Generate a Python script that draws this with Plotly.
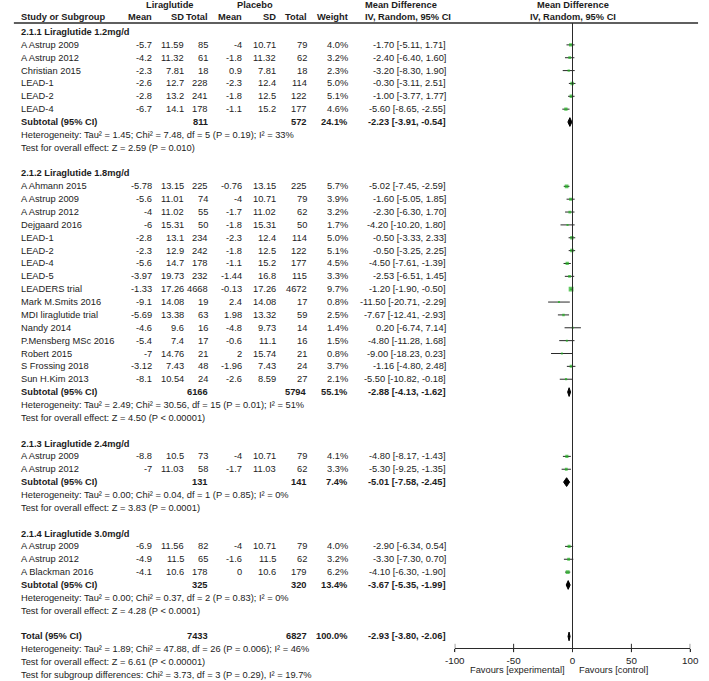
import plotly.graph_objects as go

# ---------------- data ----------------
group_titles = ["2.1.1 Liraglutide 1.2mg/d", "2.1.2 Liraglutide 1.8mg/d",
                "2.1.3 Liraglutide 2.4mg/d", "2.1.4 Liraglutide 3.0mg/d"]
study_group = [0] * 6 + [1] * 16 + [2] * 2 + [3] * 3
studies = ["A Astrup 2009", "A Astrup 2012", "Christian 2015", "LEAD-1", "LEAD-2", "LEAD-4",
           "A Ahmann 2015", "A Astrup 2009", "A Astrup 2012", "Dejgaard 2016", "LEAD-1", "LEAD-2",
           "LEAD-4", "LEAD-5", "LEADERS trial", "Mark M.Smits 2016", "MDI liraglutide trial",
           "Nandy 2014", "P.Mensberg MSc 2016", "Robert 2015", "S Frossing 2018", "Sun H.Kim 2013",
           "A Astrup 2009", "A Astrup 2012",
           "A Astrup 2009", "A Astrup 2012", "A Blackman 2016"]
lira_mean = [-5.7, -4.2, -2.3, -2.6, -2.8, -6.7,
             -5.78, -5.6, -4, -6, -2.8, -2.3, -5.6, -3.97, -1.33, -9.1, -5.69, -4.6, -5.4, -7, -3.12, -8.1,
             -8.8, -7,
             -6.9, -4.9, -4.1]
lira_sd = [11.59, 11.32, 7.81, 12.7, 13.2, 14.1,
           13.15, 11.01, 11.02, 15.31, 13.1, 12.9, 14.7, 19.73, 17.26, 14.08, 13.38, 9.6, 7.4, 14.76, 7.43, 10.54,
           10.5, 11.03,
           11.56, 11.5, 10.6]
lira_n = [85, 61, 18, 228, 241, 178,
          225, 74, 55, 50, 234, 242, 178, 232, 4668, 19, 63, 16, 17, 21, 48, 24,
          73, 58,
          82, 65, 178]
pla_mean = [-4, -1.8, 0.9, -2.3, -1.8, -1.1,
            -0.76, -4, -1.7, -1.8, -2.3, -1.8, -1.1, -1.44, -0.13, 2.4, 1.98, -4.8, -0.6, 2, -1.96, -2.6,
            -4, -1.7,
            -4, -1.6, 0]
pla_sd = [10.71, 11.32, 7.81, 12.4, 12.5, 15.2,
          13.15, 10.71, 11.02, 15.31, 12.4, 12.5, 15.2, 16.8, 17.26, 14.08, 13.32, 9.73, 11.1, 15.74, 7.43, 8.59,
          10.71, 11.03,
          10.71, 11.5, 10.6]
pla_n = [79, 62, 18, 114, 122, 177,
         225, 79, 62, 50, 114, 122, 177, 115, 4672, 17, 59, 14, 16, 21, 24, 27,
         79, 62,
         79, 62, 179]
weight = [4.0, 3.2, 2.3, 5.0, 5.1, 4.6,
          5.7, 3.9, 3.2, 1.7, 5.0, 5.1, 4.5, 3.3, 9.7, 0.8, 2.5, 1.4, 1.5, 0.8, 3.7, 2.1,
          4.1, 3.3,
          4.0, 3.2, 6.2]
md = [-1.70, -2.40, -3.20, -0.30, -1.00, -5.60,
      -5.02, -1.60, -2.30, -4.20, -0.50, -0.50, -4.50, -2.53, -1.20, -11.50, -7.67, 0.20, -4.80, -9.00, -1.16, -5.50,
      -4.80, -5.30,
      -2.90, -3.30, -4.10]
ci_lo = [-5.11, -6.40, -8.30, -3.11, -3.77, -8.65,
         -7.45, -5.05, -6.30, -10.20, -3.33, -3.25, -7.61, -6.51, -1.90, -20.71, -12.41, -6.74, -11.28, -18.23, -4.80, -10.82,
         -8.17, -9.25,
         -6.34, -7.30, -6.30]
ci_hi = [1.71, 1.60, 1.90, 2.51, 1.77, -2.55,
         -2.59, 1.85, 1.70, 1.80, 2.33, 2.25, -1.39, 1.45, -0.50, -2.29, -2.93, 7.14, 1.68, 0.23, 2.48, -0.18,
         -1.43, -1.35,
         0.54, 0.70, -1.90]

sub_lira_n = [811, 6166, 131, 325]
sub_pla_n = [572, 5794, 141, 320]
sub_weight = [24.1, 55.1, 7.4, 13.4]
sub_md = [-2.23, -2.88, -5.01, -3.67]
sub_lo = [-3.91, -4.13, -7.58, -5.35]
sub_hi = [-0.54, -1.62, -2.45, -1.99]
sub_het = ["Tau² = 1.45; Chi² = 7.48, df = 5 (P = 0.19); I² = 33%",
           "Tau² = 2.49; Chi² = 30.56, df = 15 (P = 0.01); I² = 51%",
           "Tau² = 0.00; Chi² = 0.04, df = 1 (P = 0.85); I² = 0%",
           "Tau² = 0.00; Chi² = 0.37, df = 2 (P = 0.83); I² = 0%"]
sub_z = ["Z = 2.59 (P = 0.010)", "Z = 4.50 (P < 0.00001)",
         "Z = 3.83 (P = 0.0001)", "Z = 4.28 (P < 0.0001)"]

total_lira_n = 7433
total_pla_n = 6827
total_weight = 100.0
total_md = -2.93
total_lo = -3.80
total_hi = -2.06
total_het = "Tau² = 1.89; Chi² = 47.88, df = 26 (P = 0.006); I² = 46%"
total_z = "Z = 6.61 (P < 0.00001)"
subgroup_test = "Chi² = 3.73, df = 3 (P = 0.29), I² = 19.7%"

axis_ticks = [-100, -50, 0, 50, 100]
axis_ticktext = ["-100", "-50", "0", "50", "100"]

# ---------------- styling / layout constants ----------------
W, H = 709, 681
ROW0_PX, ROW_PX = 32.0, 12.86
FONT = "Arial, Liberation Sans, sans-serif"
FS = 9.3
TXT = "#1c1c1c"
LINE = "#2a2a2a"
GREEN = "#1fb41f"
X_STUDY = 9
COL_R = [148, 181, 205, 240, 275, 307, 349]
X_MD = 450
X_MDH = 363
PLOT_L, PLOT_R = 457, 699
AXIS_PX = 648


def px_to_row(p):
    return (p - ROW0_PX) / ROW_PX


def fmt(v):
    return str(v)


ann = []


def txt(x, row, s, anchor="left", bold=False, size=FS):
    if bold:
        s = "<b>" + s + "</b>"
    ann.append(dict(x=x, y=row, xref="x", yref="y", text=s, showarrow=False,
                    xanchor=anchor, yanchor="middle", align=anchor,
                    font=dict(family=FONT, size=size, color=TXT)))


def md_text(m, lo, hi):
    return f"{m:.2f} [{lo:.2f}, {hi:.2f}]"


# headers
r_h1, r_h2 = px_to_row(5), px_to_row(17)
txt(164, r_h1, "Liraglutide", "center", True)
txt(252, r_h1, "Placebo", "center", True)
txt(X_MDH, r_h1, "Mean Difference", "left", True)
txt(X_MDH, r_h2, "IV, Random, 95% CI", "left", True)
txt(578, r_h1, "Mean Difference", "center", True)
txt(578, r_h2, "IV, Random, 95% CI", "center", True)
txt(X_STUDY, r_h2, "Study or Subgroup", "left", True)
for xr, lab in zip(COL_R, ["Mean", "SD", "Total", "Mean", "SD", "Total", "Weight"]):
    txt(xr, r_h2, lab, "right", True)

# body rows
study_rows, sub_rows = [], []
r = 0
for g in range(len(group_titles)):
    txt(X_STUDY, r, group_titles[g], "left", True)
    r += 1
    for i, sg in enumerate(study_group):
        if sg != g:
            continue
        vals = [fmt(lira_mean[i]), fmt(lira_sd[i]), fmt(lira_n[i]),
                fmt(pla_mean[i]), fmt(pla_sd[i]), fmt(pla_n[i]), f"{weight[i]:.1f}%"]
        txt(X_STUDY, r, studies[i])
        for xr, v in zip(COL_R, vals):
            txt(xr, r, v, "right")
        txt(X_MD, r, md_text(md[i], ci_lo[i], ci_hi[i]), "right")
        study_rows.append(r)
        r += 1
    txt(X_STUDY, r, "Subtotal (95% CI)", "left", True)
    txt(COL_R[2], r, str(sub_lira_n[g]), "right", True)
    txt(COL_R[5], r, str(sub_pla_n[g]), "right", True)
    txt(COL_R[6], r, f"{sub_weight[g]:.1f}%", "right", True)
    txt(X_MD, r, md_text(sub_md[g], sub_lo[g], sub_hi[g]), "right", True)
    sub_rows.append(r)
    r += 1
    txt(X_STUDY, r, "Heterogeneity: " + sub_het[g])
    r += 1
    txt(X_STUDY, r, "Test for overall effect: " + sub_z[g])
    r += 2

total_row = r
txt(X_STUDY, r, "Total (95% CI)", "left", True)
txt(COL_R[2], r, str(total_lira_n), "right", True)
txt(COL_R[5], r, str(total_pla_n), "right", True)
txt(COL_R[6], r, f"{total_weight:.1f}%", "right", True)
txt(X_MD, r, md_text(total_md, total_lo, total_hi), "right", True)
txt(X_STUDY, r + 1, "Heterogeneity: " + total_het)
txt(X_STUDY, r + 2, "Test for overall effect: " + total_z)
txt(X_STUDY, r + 3, "Test for subgroup differences: " + subgroup_test)

axis_row = px_to_row(AXIS_PX)
txt(572, px_to_row(670), "Favours [experimental]", "right")
txt(583, px_to_row(670), "Favours [control]", "left")

fig = go.Figure()

# CI lines
cx, cy = [], []
for lo, hi, rr in zip(ci_lo, ci_hi, study_rows):
    cx += [lo, hi, None]
    cy += [rr, rr, None]
fig.add_trace(go.Scatter(x=cx, y=cy, mode="lines", xaxis="x2", yaxis="y",
                         line=dict(color=LINE, width=1), hoverinfo="skip", showlegend=False))
# weighted squares
fig.add_trace(go.Scatter(x=md, y=study_rows, mode="markers", xaxis="x2", yaxis="y",
                         marker=dict(symbol="square", color=GREEN,
                                     size=[max(2.0, 1.55 * w ** 0.5) for w in weight],
                                     line=dict(width=0)),
                         hoverinfo="skip", showlegend=False))
# diamonds
hd = 0.34
for m, lo, hi, rr in list(zip(sub_md, sub_lo, sub_hi, sub_rows)) + [(total_md, total_lo, total_hi, total_row)]:
    fig.add_trace(go.Scatter(x=[lo, m, hi, m, lo], y=[rr, rr - hd, rr, rr + hd, rr],
                             mode="lines", fill="toself", fillcolor="black",
                             line=dict(color="black", width=1), xaxis="x2", yaxis="y",
                             hoverinfo="skip", showlegend=False))
# tick marks crossing the axis line
fig.add_trace(go.Scatter(x=axis_ticks, y=[axis_row] * len(axis_ticks), mode="markers",
                         xaxis="x2", yaxis="y",
                         marker=dict(symbol="line-ns", size=6, line=dict(color=LINE, width=1)),
                         hoverinfo="skip", showlegend=False))

shapes = [
    dict(type="line", xref="x", yref="y", x0=4, x1=707, y0=px_to_row(23), y1=px_to_row(23),
         line=dict(color=LINE, width=1.3)),
    dict(type="line", xref="x2", yref="y", x0=0, x1=0, y0=px_to_row(23), y1=axis_row,
         line=dict(color=LINE, width=1)),
]

fig.update_layout(
    width=W, height=H, margin=dict(l=0, r=0, t=0, b=0),
    paper_bgcolor="white", plot_bgcolor="white",
    xaxis=dict(domain=[0, 1], range=[0, W], visible=False, fixedrange=True),
    yaxis=dict(range=[px_to_row(H), px_to_row(0)], visible=False, fixedrange=True),
    xaxis2=dict(domain=[PLOT_L / W, PLOT_R / W], range=[-100, 100], anchor="free",
                position=(H - AXIS_PX) / H, showline=True, linecolor=LINE, linewidth=1,
                tickvals=axis_ticks, ticktext=axis_ticktext, ticks="outside", ticklen=3,
                tickcolor=LINE, showgrid=False, zeroline=False, fixedrange=True,
                tickfont=dict(family=FONT, size=FS + 0.5, color=TXT)),
    annotations=ann, shapes=shapes, showlegend=False,
)

fig.write_html("out.html", config={"displayModeBar": False},
               post_script="document.body.style.margin='0';document.body.style.padding='0';"
                           "document.documentElement.style.overflow='hidden';")
